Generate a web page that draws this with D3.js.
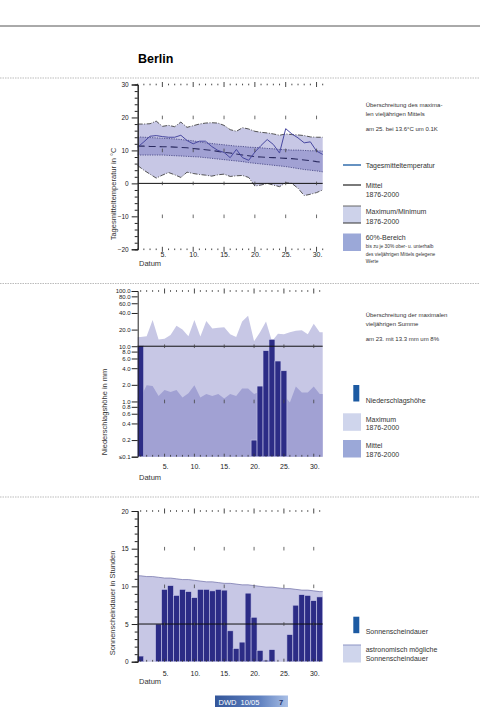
<!DOCTYPE html>
<html lang="de">
<head>
<meta charset="UTF-8">
<title>Berlin</title>
<script src="https://d3js.org/d3.v7.min.js"></script>
<style>
  body { margin: 0; background: #fff; }
  svg { font-family: "Liberation Sans", Arial, sans-serif; }
</style>
</head>
<body>
<svg width="504" height="713"></svg>
<script>
// ---- data ----
const days = [1,2,3,4,5,6,7,8,9,10,11,12,13,14,15,16,17,18,19,20,21,22,23,24,25,26,27,28,29,30,31];
const dayLabels = [5,10,15,20,25,30];

// temperature (°C)
const tempDaily = [11.0,12.6,14.3,14.5,14.2,14.0,14.0,14.6,13.0,12.0,12.8,12.8,11.2,10.0,9.4,7.8,10.3,7.8,7.0,9.5,11.5,13.3,11.8,9.2,16.6,15.0,13.8,12.3,12.6,9.8,8.8];
const tempMean  = [11.3,11.3,11.2,11.2,11.1,11.1,11.0,10.9,10.8,10.6,10.4,10.2,10.0,9.7,9.4,9.2,8.9,8.6,8.4,8.1,8.0,7.9,7.8,7.7,7.6,7.5,7.3,7.1,6.9,6.6,6.4];
const temp60Hi  = [14.1,14.0,13.9,13.8,13.7,13.6,13.5,13.3,13.1,12.9,12.6,12.3,12.1,11.9,11.7,11.5,11.3,11.2,11.0,10.9,10.8,10.6,10.5,10.3,10.2,10.1,10.1,10.0,9.9,9.9,9.8];
const temp60Lo  = [8.6,8.6,8.6,8.6,8.6,8.5,8.4,8.3,8.2,8.1,8.0,7.8,7.6,7.4,7.2,7.0,6.8,6.6,6.3,6.1,5.9,5.7,5.5,5.3,5.1,4.8,4.5,4.2,4.0,3.8,3.5];
const tempMax   = [18.0,18.0,18.1,18.9,17.3,17.6,17.2,18.6,17.0,17.5,18.0,18.3,18.4,18.3,17.6,16.3,15.8,16.9,16.5,15.8,15.5,15.3,15.0,14.6,15.0,14.8,14.7,14.5,14.1,14.0,14.0];
const tempMin   = [5.4,4.0,2.8,1.6,2.5,3.3,2.6,1.8,3.4,3.0,2.7,2.5,2.2,2.6,2.8,2.1,2.3,2.4,1.8,-0.8,-0.5,0.0,-0.5,-1.0,0.2,0.0,-1.5,-3.7,-3.3,-2.8,-2.0];
const tempTicks = [30,20,10,0,-10,-20];
const tempMinorTicks = [28,26,24,22,18,16,14,12,8,6,4,2,-2,-4,-6,-8,-12,-14,-16,-18];

// precipitation (mm)
const precip     = [10.2,0,0,0,0,0,0,0,0,0,0,0,0,0,0,0,0,0,0,0.2,1.9,8.3,13.3,5.4,3.6,0,0,0,0,0,0];
const precipMax  = [14.7,15.2,30,13.3,13.7,16,23.5,20,15.2,30,15,28.5,21,21.5,22,16.5,14.7,28,35.5,12.3,18,28,12.3,16.9,16.5,18,19,19.5,16.5,25.5,18];
const precipMean = [1.18,1.96,1.9,1.26,1.62,1.49,1.62,1.18,1.41,1.96,1.18,1.36,1.26,1.36,1.13,1.36,1.26,1.71,1.71,1.36,1.5,1.6,1.5,1.4,1.3,0.96,1.86,1.45,1.45,1.86,1.36];
const precipTicks = [100,80,60,40,20,10,8,6,4,2,1,0.8,0.6,0.4,0.2,0.1];

// sunshine (h)
const sunshine = [0.75,0,0,5.0,9.6,10.1,8.8,9.6,9.3,8.5,9.6,9.6,9.4,9.6,9.5,4.1,1.75,2.6,9.1,5.9,1.5,0.2,1.6,0,0,3.6,7.5,8.9,8.8,8.1,8.6];
const sunAstro = [11.4,11.3,11.3,11.2,11.1,11.1,11.0,10.9,10.9,10.8,10.7,10.6,10.6,10.5,10.4,10.4,10.3,10.2,10.2,10.1,10.0,9.9,9.9,9.8,9.7,9.7,9.6,9.5,9.5,9.4,9.3];
const sunTicks = [20,15,10,5,0];
const sunMinorTicks = [19,18,17,16,14,13,12,11,9,8,7,6,4,3,2,1];

// ---- colours ----
const cLight = "#c7c7e5", cMid = "#a1a1d3", cBar = "#2c2c86", cDaily = "#4848a0";

const svg = d3.select("svg");
const X0 = 137.7, X1 = 322.7;

// header
svg.append("line").attr("x1", 0).attr("x2", 480).attr("y1", 26).attr("y2", 26)
   .attr("stroke", "#555").attr("stroke-width", 1);
svg.append("text").attr("x", 138).attr("y", 63).style("font-size", "12.5px")
   .style("font-weight", "bold").text("Berlin");
[78, 283.5, 497].forEach(y => {
  svg.append("line").attr("x1", 0).attr("x2", 480).attr("y1", y).attr("y2", y)
     .attr("stroke", "#aaa").attr("stroke-width", 0.8).attr("stroke-dasharray", "1.5,1");
});

// shared x scales
const xt = d3.scaleLinear().domain([1, 31]).range([X0, X1]);
const xb = d3.scaleBand().domain(days).range([X0, X1]).padding(0);
const xc = d => xb(d) + xb.bandwidth() / 2;

// dotted day row (small tick every day, bigger every 5th)
function dayRow(g, xf, y) {
  g.selectAll(null).data(days).enter().append("line")
   .attr("x1", d => xf(d)).attr("x2", d => xf(d))
   .attr("y1", d => d % 5 === 0 ? y - 2.5 : y - 0.8)
   .attr("y2", d => d % 5 === 0 ? y + 2.5 : y + 0.8)
   .attr("stroke", "#333").attr("stroke-width", 0.9);
}
// short ticks at major days across the plot
function majorRow(g, xf, y) {
  g.selectAll(null).data(dayLabels).enter().append("line")
   .attr("x1", d => xf(d)).attr("x2", d => xf(d))
   .attr("y1", y - 1.8).attr("y2", y + 1.8)
   .attr("stroke", "#444").attr("stroke-width", 0.8);
}
// ticks standing on the bottom edge
function bottomTicks(g, xf, y) {
  g.selectAll(null).data(days).enter().append("line")
   .attr("x1", d => xf(d)).attr("x2", d => xf(d))
   .attr("y1", d => y - (d % 5 === 0 ? 3 : 1.8)).attr("y2", y)
   .attr("stroke", "#333").attr("stroke-width", 0.8);
}
function dayLabelsAt(g, xf, y) {
  g.selectAll(null).data(dayLabels).enter().append("text")
   .attr("x", d => xf(d) + 1).attr("y", y).attr("text-anchor", "middle")
   .style("font-size", "7px").attr("fill", "#222").text(d => d + ".");
}
function yLabel(text, x, y) {
  svg.append("text").attr("transform", `translate(${x},${y}) rotate(-90)`)
     .attr("text-anchor", "middle").style("font-size", "7.5px").attr("fill", "#333").text(text);
}
function styleAxis(g) {
  g.select(".domain").attr("stroke", "#222");
  g.selectAll(".tick line").attr("stroke", "#222");
  g.selectAll(".tick text").style("font-size", "6.5px").attr("fill", "#222")
   .style("font-family", "'Liberation Sans', Arial, sans-serif");
}

// =============== Temperature panel ===============
const yT = d3.scaleLinear().domain([-20, 30]).range([249.3, 84.5]);
const gT = svg.append("g");
const idx = days.map((d, i) => i);

gT.append("path").datum(idx)
  .attr("d", d3.area().x(i => xt(days[i])).y0(i => yT(tempMin[i])).y1(i => yT(tempMax[i])))
  .attr("fill", cLight);
gT.append("path").datum(idx)
  .attr("d", d3.area().x(i => xt(days[i])).y0(i => yT(temp60Lo[i])).y1(i => yT(temp60Hi[i])))
  .attr("fill", cMid);

const lineOf = arr => d3.line().x(i => xt(days[i])).y(i => yT(arr[i]));
gT.append("path").datum(idx).attr("d", lineOf(tempMax)).attr("fill", "none")
  .attr("stroke", "#444").attr("stroke-width", 0.9).attr("stroke-dasharray", "5,1.5,1,1.5");
gT.append("path").datum(idx).attr("d", lineOf(tempMin)).attr("fill", "none")
  .attr("stroke", "#444").attr("stroke-width", 0.9).attr("stroke-dasharray", "5,1.5,1,1.5");
gT.append("path").datum(idx).attr("d", lineOf(temp60Hi)).attr("fill", "none")
  .attr("stroke", "#3a3a7a").attr("stroke-width", 0.8).attr("stroke-dasharray", "1.2,1.2");
gT.append("path").datum(idx).attr("d", lineOf(temp60Lo)).attr("fill", "none")
  .attr("stroke", "#3a3a7a").attr("stroke-width", 0.8).attr("stroke-dasharray", "1.2,1.2");
gT.append("path").datum(idx).attr("d", lineOf(tempMean)).attr("fill", "none")
  .attr("stroke", "#2a2a60").attr("stroke-width", 1.1).attr("stroke-dasharray", "7,4");
gT.append("path").datum(idx).attr("d", lineOf(tempDaily)).attr("fill", "none")
  .attr("stroke", cDaily).attr("stroke-width", 1);

// zero line
gT.append("line").attr("x1", X0).attr("x2", X1).attr("y1", yT(0)).attr("y2", yT(0))
  .attr("stroke", "#111").attr("stroke-width", 1);
dayRow(gT, xt, yT(30));
dayRow(gT, xt, yT(-20));
[20, 10, 0, -10].forEach(v => majorRow(gT, xt, yT(v)));
dayLabelsAt(gT, xt, 256.5);

const axT = gT.append("g").attr("transform", `translate(${X0},0)`)
  .call(d3.axisLeft(yT).tickValues(tempMinorTicks).tickSize(3).tickFormat(""));
styleAxis(axT);
const axT2 = gT.append("g").attr("transform", `translate(${X0},0)`)
  .call(d3.axisLeft(yT).tickValues(tempTicks).tickSize(6).tickPadding(3));
styleAxis(axT2);
yLabel("Tagesmitteltemperatur in °C", 116, 194);
gT.append("text").attr("x", 139).attr("y", 266).style("font-size", "7.5px").attr("fill", "#333").text("Datum");

// =============== Precipitation panel ===============
const yP = d3.scaleLog().domain([0.1, 100]).range([456.7, 291]);
const gP = svg.append("g");
// areas run to the panel edges, holding the first/last value
const edgeIdx = [-1].concat(idx, [31]);
const xe = i => i < 0 ? X0 : i > 30 ? X1 : xc(days[i]);
const clampI = i => Math.max(0, Math.min(30, i));

gP.append("path").datum(edgeIdx)
  .attr("d", d3.area().x(xe).y0(yP(0.1)).y1(i => yP(precipMax[clampI(i)])))
  .attr("fill", cLight);
gP.append("path").datum(edgeIdx)
  .attr("d", d3.area().x(xe).y0(yP(0.1)).y1(i => yP(precipMean[clampI(i)])))
  .attr("fill", cMid);

gP.selectAll(null).data(idx.filter(i => precip[i] > 0)).enter().append("rect")
  .attr("x", i => xb(days[i])).attr("width", xb.bandwidth())
  .attr("y", i => yP(Math.max(precip[i], 0.1))).attr("height", i => yP(0.1) - yP(Math.max(precip[i], 0.1)))
  .attr("fill", cBar).attr("stroke", "#c9c9e9").attr("stroke-width", 0.6);

gP.append("line").attr("x1", X0).attr("x2", X1).attr("y1", yP(10)).attr("y2", yP(10))
  .attr("stroke", "#111").attr("stroke-width", 1);
dayRow(gP, xc, yP(100));
majorRow(gP, xc, yP(10));
majorRow(gP, xc, yP(1));
bottomTicks(gP, xc, yP(0.1));
dayLabelsAt(gP, xc, 469);

const axP = gP.append("g").attr("transform", `translate(${X0},0)`)
  .call(d3.axisLeft(yP).tickValues(precipTicks).tickSize(6).tickPadding(1)
  .tickFormat(v => v === 0.1 ? "≤0.1" : v.toFixed(1)));
styleAxis(axP);
axP.selectAll(".tick text").style("font-size", "6px");
yLabel("Niederschlagshöhe in mm", 107, 412);
gP.append("text").attr("x", 139).attr("y", 480).style("font-size", "7.5px").attr("fill", "#333").text("Datum");

// =============== Sunshine panel ===============
const yS = d3.scaleLinear().domain([0, 20]).range([661.7, 511]);
const gS = svg.append("g");

gS.append("path").datum(edgeIdx)
  .attr("d", d3.area().x(xe).y0(yS(0)).y1(i => yS(sunAstro[clampI(i)])))
  .attr("fill", cLight);
gS.append("path").datum(edgeIdx)
  .attr("d", d3.line().x(xe).y(i => yS(sunAstro[clampI(i)])))
  .attr("fill", "none").attr("stroke", "#7070a8").attr("stroke-width", 0.7);

gS.selectAll(null).data(idx.filter(i => sunshine[i] > 0)).enter().append("rect")
  .attr("x", i => xb(days[i])).attr("width", xb.bandwidth())
  .attr("y", i => yS(sunshine[i])).attr("height", i => yS(0) - yS(sunshine[i]))
  .attr("fill", cBar).attr("stroke", "#c9c9e9").attr("stroke-width", 0.6);

gS.append("line").attr("x1", X0).attr("x2", X1).attr("y1", yS(5)).attr("y2", yS(5))
  .attr("stroke", "#111").attr("stroke-width", 1);
dayRow(gS, xc, yS(20));
[15, 10, 5].forEach(v => majorRow(gS, xc, yS(v)));
bottomTicks(gS, xc, yS(0));
dayLabelsAt(gS, xc, 676);

const axS = gS.append("g").attr("transform", `translate(${X0},0)`)
  .call(d3.axisLeft(yS).tickValues(sunMinorTicks).tickSize(3).tickFormat(""));
styleAxis(axS);
const axS2 = gS.append("g").attr("transform", `translate(${X0},0)`)
  .call(d3.axisLeft(yS).tickValues(sunTicks).tickSize(6).tickPadding(3));
styleAxis(axS2);
yLabel("Sonnenscheindauer in Stunden", 115, 603);
gS.append("text").attr("x", 139).attr("y", 684).style("font-size", "7.5px").attr("fill", "#333").text("Datum");

// =============== Legends ===============
const LX = 365.7;
function txt(x, y, s, size, fill) {
  svg.append("text").attr("x", x).attr("y", y).style("font-size", size + "px")
     .attr("fill", fill || "#333").text(s);
}
// temperature notes
txt(LX, 107, "Überschreitung des maxima-", 6);
txt(LX, 115.5, "len vieljährigen Mittels", 6);
txt(LX, 131, "am 25. bei 13.6°C um 0.1K", 6);
svg.append("line").attr("x1", 343).attr("x2", 361).attr("y1", 165).attr("y2", 165)
   .attr("stroke", "#2563a6").attr("stroke-width", 1.4);
txt(LX, 167.5, "Tagesmitteltemperatur", 7);
svg.append("line").attr("x1", 343).attr("x2", 361).attr("y1", 185).attr("y2", 185)
   .attr("stroke", "#222").attr("stroke-width", 1.2);
txt(LX, 187.5, "Mittel", 7);
txt(LX, 196.5, "1876-2000", 7);
svg.append("rect").attr("x", 343).attr("y", 206).attr("width", 18).attr("height", 17).attr("fill", "#cdd2ea");
svg.append("line").attr("x1", 343).attr("x2", 361).attr("y1", 206).attr("y2", 206).attr("stroke", "#666").attr("stroke-width", 1);
svg.append("line").attr("x1", 343).attr("x2", 361).attr("y1", 223).attr("y2", 223).attr("stroke", "#333").attr("stroke-width", 1);
txt(LX, 214, "Maximum/Minimum", 7);
txt(LX, 223.5, "1876-2000", 7);
svg.append("rect").attr("x", 343).attr("y", 233.5).attr("width", 18).attr("height", 17.5).attr("fill", "#9ba8d8");
txt(LX, 239.5, "60%-Bereich", 7);
txt(LX, 247.5, "bis zu je 30% ober- u. unterhalb", 4.8);
txt(LX, 255.5, "des vieljährigen Mittels gelegene", 4.8);
txt(LX, 263, "Werte", 4.8);

// precipitation notes
txt(LX, 317, "Überschreitung der maximalen", 6);
txt(LX, 325.5, "vieljährigen Summe", 6);
txt(LX, 341, "am 23. mit 13.3 mm um 8%", 6);
svg.append("rect").attr("x", 353.3).attr("y", 385).attr("width", 6).attr("height", 16.5).attr("fill", "#1c5aa2");
txt(LX, 403, "Niederschlagshöhe", 7);
svg.append("rect").attr("x", 343).attr("y", 413.3).attr("width", 18).attr("height", 17.5).attr("fill", "#cfd5ec");
txt(LX, 421.5, "Maximum", 7);
txt(LX, 430, "1876-2000", 7);
svg.append("rect").attr("x", 343).attr("y", 440).attr("width", 18).attr("height", 17.5).attr("fill", "#9ba8d8");
txt(LX, 448, "Mittel", 7);
txt(LX, 456.5, "1876-2000", 7);

// sunshine notes
svg.append("rect").attr("x", 353.3).attr("y", 616.7).attr("width", 6).attr("height", 16.5).attr("fill", "#1c5aa2");
txt(LX, 633.5, "Sonnenscheindauer", 7);
svg.append("rect").attr("x", 343).attr("y", 645).attr("width", 18).attr("height", 17.5).attr("fill", "#cfd5ec");
svg.append("line").attr("x1", 343).attr("x2", 361).attr("y1", 645).attr("y2", 645).attr("stroke", "#8d95c4").attr("stroke-width", 1);
txt(LX, 651.5, "astronomisch mögliche", 7);
txt(LX, 660.5, "Sonnenscheindauer", 7);

// =============== Footer ===============
const grad = svg.append("defs").append("linearGradient").attr("id", "foot")
  .attr("x1", "0%").attr("x2", "100%");
grad.append("stop").attr("offset", "0%").attr("stop-color", "#34569a");
grad.append("stop").attr("offset", "60%").attr("stop-color", "#5d7fbf");
grad.append("stop").attr("offset", "100%").attr("stop-color", "#a9bfe6");
svg.append("rect").attr("x", 215).attr("y", 695.5).attr("width", 73).attr("height", 11.5).attr("fill", "url(#foot)");
svg.append("text").attr("x", 218.5).attr("y", 704.5).style("font-size", "7.5px").attr("fill", "#fff")
   .attr("xml:space", "preserve").text("DWD  10/05");
svg.append("text").attr("x", 279).attr("y", 704.5).style("font-size", "7.5px").style("font-weight", "bold")
   .attr("fill", "#1d2f6a").text("7");
</script>
</body>
</html>
